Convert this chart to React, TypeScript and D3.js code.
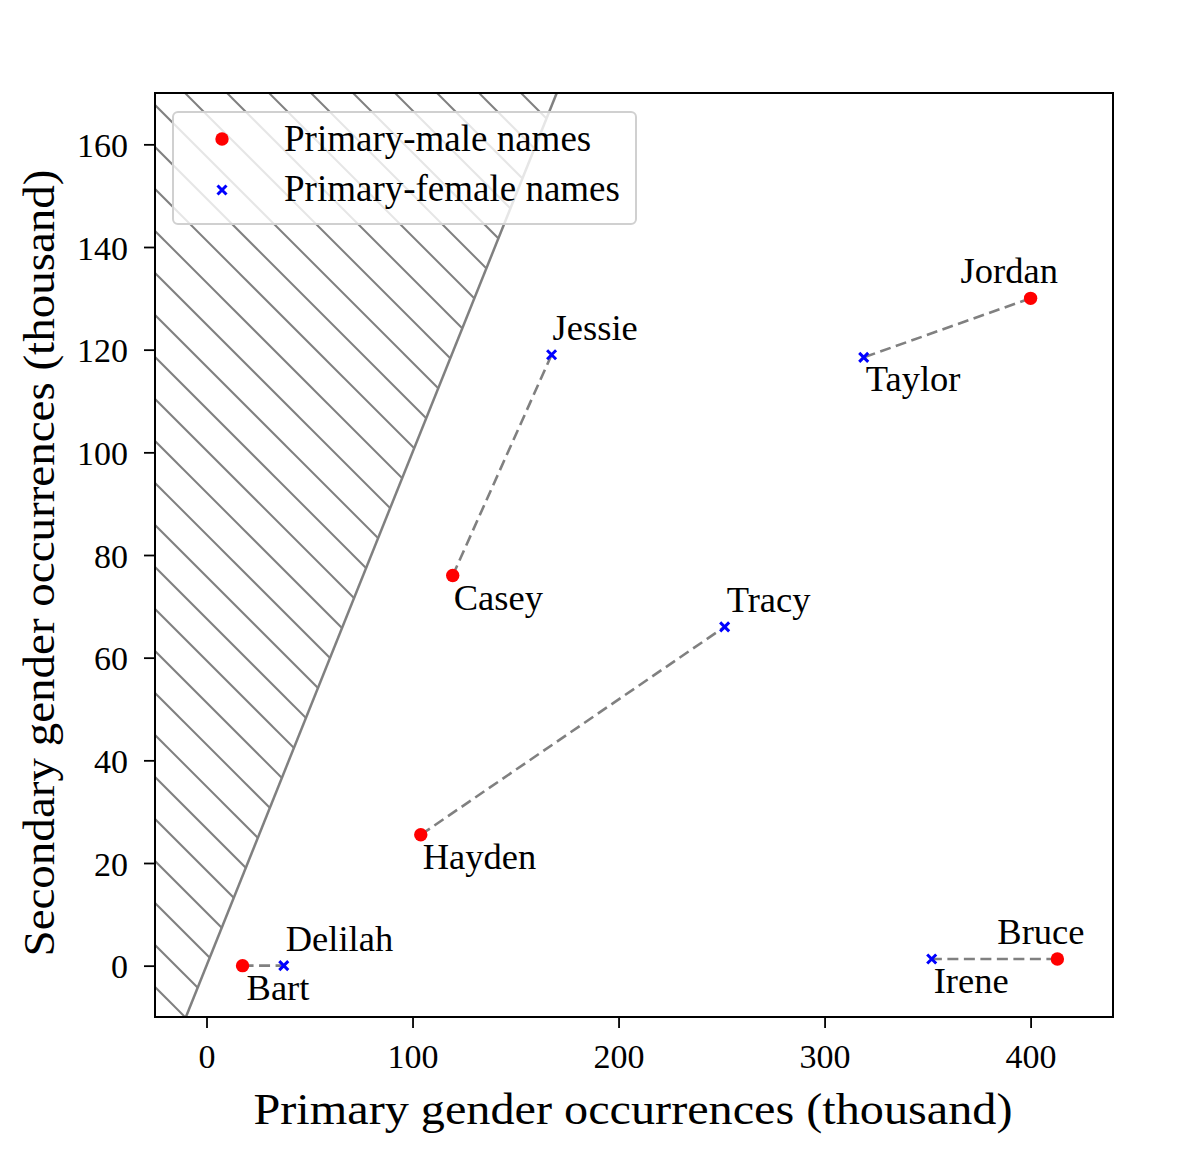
import { useEffect, useRef } from 'react';
import * as d3 from 'd3';

// Name pairs: each primary-male name is linked to a primary-female name
const maleNames: string[] = ['Bart', 'Hayden', 'Casey', 'Jordan', 'Bruce'];
const malePrimary: number[] = [17.5, 104, 119.5, 400, 413];
const maleSecondary: number[] = [0, 25.5, 76, 130, 1.3];

const femaleNames: string[] = ['Delilah', 'Tracy', 'Jessie', 'Taylor', 'Irene'];
const femalePrimary: number[] = [37.5, 251.5, 167.5, 319, 352];
const femaleSecondary: number[] = [0, 66, 119, 118.5, 1.3];

// label placement: 'a' = above, 'b' = below; horizontal nudge in px
const maleLabelSide: string[] = ['b', 'b', 'b', 'a', 'a'];
const maleLabelDx: number[] = [4, 2, 1, -70, -60];
const femaleLabelSide: string[] = ['a', 'a', 'a', 'b', 'b'];
const femaleLabelDx: number[] = [2, 2, 1, 2, 2];

const xTicks: number[] = [0, 100, 200, 300, 400];
const yTicks: number[] = [0, 20, 40, 60, 80, 100, 120, 140, 160];

const FONT = '"Liberation Serif", "DejaVu Serif", serif';

export default function App() {
  const svgRef = useRef<SVGSVGElement | null>(null);

  useEffect(() => {
    if (!svgRef.current) return;
    const svg = d3.select(svgRef.current);
    svg.selectAll('*').remove();

    // work in page coordinates, svg sits at the 8px body margin
    const root = svg.append('g').attr('transform', 'translate(-8,-8)');

    const left = 155, right = 1113, top = 93, bottom = 1017;
    const x = d3.scaleLinear().domain([-25, 440]).range([left, right]);
    const y = d3.scaleLinear().domain([-10, 170]).range([bottom, top]);

    const defs = svg.append('defs');
    defs.append('clipPath').attr('id', 'axclip')
      .append('rect').attr('x', left - 8).attr('y', top - 8)
      .attr('width', right - left).attr('height', bottom - top);
    // region where secondary > primary
    const regionPts: [number, number][] = [[-25, -10], [-10, -10], [170, 170], [-25, 170]];
    defs.append('clipPath').attr('id', 'hatchclip')
      .append('polygon')
      .attr('points', regionPts.map(p => `${x(p[0]) - 8},${y(p[1]) - 8}`).join(' '));

    // hatching
    const hatch = root.append('g').attr('clip-path', 'url(#hatchclip)')
      .attr('transform', 'translate(8,8)');
    const hg = hatch.append('g').attr('transform', 'translate(-8,-8)');
    const spacing = 42;
    const x0 = 185;
    const h = bottom - top;
    for (let k = -30; k < 20; k++) {
      const sx = x0 + k * spacing;
      hg.append('line')
        .attr('x1', sx).attr('y1', top)
        .attr('x2', sx + h).attr('y2', top + h)
        .attr('stroke', '#808080').attr('stroke-width', 2);
    }

    // boundary line y = x
    const plot = root.append('g').attr('clip-path', 'url(#axclip)')
      .attr('transform', 'translate(8,8)').append('g').attr('transform', 'translate(-8,-8)');
    plot.append('line')
      .attr('x1', x(-10)).attr('y1', y(-10))
      .attr('x2', x(170)).attr('y2', y(170))
      .attr('stroke', '#808080').attr('stroke-width', 2.5);

    // connectors
    maleNames.forEach((_, i) => {
      plot.append('line')
        .attr('x1', x(malePrimary[i])).attr('y1', y(maleSecondary[i]))
        .attr('x2', x(femalePrimary[i])).attr('y2', y(femaleSecondary[i]))
        .attr('stroke', '#808080').attr('stroke-width', 2.6)
        .attr('stroke-dasharray', '11,5.5');
    });

    // markers
    const cross = (g: any, cx: number, cy: number) => {
      const s = 4.5;
      g.append('path')
        .attr('d', `M${cx - s},${cy - s}L${cx + s},${cy + s}M${cx - s},${cy + s}L${cx + s},${cy - s}`)
        .attr('stroke', 'blue').attr('stroke-width', 3).attr('fill', 'none');
    };
    maleNames.forEach((_, i) => {
      root.append('circle')
        .attr('cx', x(malePrimary[i])).attr('cy', y(maleSecondary[i]))
        .attr('r', 6.7).attr('fill', 'red');
    });
    femaleNames.forEach((_, i) => cross(root, x(femalePrimary[i]), y(femaleSecondary[i])));

    // name labels
    const label = (name: string, px: number, py: number, side: string, dx: number) => {
      root.append('text')
        .attr('x', x(px) + dx)
        .attr('y', y(py) + (side === 'a' ? -15 : 34))
        .attr('font-family', FONT).attr('font-size', 36.5)
        .attr('fill', '#000')
        .text(name);
    };
    maleNames.forEach((n, i) => label(n, malePrimary[i], maleSecondary[i], maleLabelSide[i], maleLabelDx[i]));
    femaleNames.forEach((n, i) => label(n, femalePrimary[i], femaleSecondary[i], femaleLabelSide[i], femaleLabelDx[i]));

    // axes
    const xAxis = root.append('g').attr('transform', `translate(0,${bottom})`)
      .call(d3.axisBottom(x).tickValues(xTicks).tickSize(11).tickPadding(10).tickFormat(d3.format('d')));
    const yAxis = root.append('g').attr('transform', `translate(${left},0)`)
      .call(d3.axisLeft(y).tickValues(yTicks).tickSize(11).tickPadding(16).tickFormat(d3.format('d')));
    [xAxis, yAxis].forEach(a => {
      a.select('.domain').remove();
      a.selectAll('line').attr('stroke', '#000').attr('stroke-width', 1.8);
      a.selectAll('text').attr('font-family', FONT).attr('font-size', 34).attr('fill', '#000');
    });
    xAxis.selectAll('text').attr('y', 51).attr('dy', '0');
    yAxis.selectAll('text').attr('dy', '0.36em');

    // frame
    root.append('rect')
      .attr('x', left).attr('y', top)
      .attr('width', right - left).attr('height', bottom - top)
      .attr('fill', 'none').attr('stroke', '#000').attr('stroke-width', 2);

    // axis titles
    root.append('text')
      .attr('x', (left + right) / 2 - 1).attr('y', 1124)
      .attr('text-anchor', 'middle')
      .attr('font-family', FONT).attr('font-size', 44).attr('fill', '#000')
      .attr('textLength', 759).attr('lengthAdjust', 'spacingAndGlyphs')
      .text('Primary gender occurrences (thousand)');
    root.append('text')
      .attr('transform', `translate(54,${(top + bottom) / 2 + 8}) rotate(-90)`)
      .attr('text-anchor', 'middle')
      .attr('font-family', FONT).attr('font-size', 44).attr('fill', '#000')
      .attr('textLength', 787).attr('lengthAdjust', 'spacingAndGlyphs')
      .text('Secondary gender occurrences (thousand)');

    // legend
    const lg = root.append('g');
    lg.append('rect')
      .attr('x', 173).attr('y', 112).attr('width', 463).attr('height', 112)
      .attr('rx', 5).attr('fill', 'rgba(255,255,255,0.8)')
      .attr('stroke', '#d0d0d0').attr('stroke-width', 2);
    lg.append('circle').attr('cx', 222).attr('cy', 139).attr('r', 6.7).attr('fill', 'red');
    cross(lg, 222, 190);
    const legendItems: string[] = ['Primary-male names', 'Primary-female names'];
    legendItems.forEach((t, i) => {
      lg.append('text')
        .attr('x', 284).attr('y', 151 + i * 50)
        .attr('font-family', FONT).attr('font-size', 37).attr('fill', '#000')
        .text(t);
    });

    return () => { svg.selectAll('*').remove(); };
  }, []);

  return (
    <svg ref={svgRef} width={1180} height={1134} style={{ display: 'block', background: '#fff' }} />
  );
}
